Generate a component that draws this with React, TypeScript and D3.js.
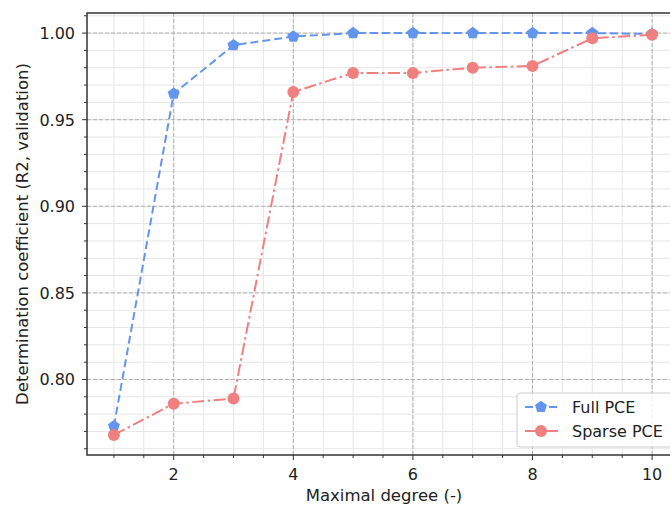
import React from "react";
import * as d3 from "d3";

const degrees = [1, 2, 3, 4, 5, 6, 7, 8, 9, 10];
const fullPCE = [0.773, 0.965, 0.993, 0.998, 1.0, 1.0, 1.0, 1.0, 1.0, 0.9995];
const sparsePCE = [0.768, 0.786, 0.789, 0.966, 0.977, 0.977, 0.98, 0.981, 0.997, 0.999];
const xTicks = [2, 4, 6, 8, 10];
const yTicks = [0.8, 0.85, 0.9, 0.95, 1.0];
const seriesNames = ["Full PCE", "Sparse PCE"];

const W = 670, H = 506;
const left = 87, top = 13, right = 679, bottom = 455;
const BLUE = "#6495ED", RED = "#F08080";
const FONT = "DejaVu Sans, sans-serif";

function pentagon(cx: number, cy: number, r: number) {
  const pts = d3.range(5).map((i) => {
    const a = -Math.PI / 2 + (i * 2 * Math.PI) / 5;
    return [cx + r * Math.cos(a), cy + r * Math.sin(a)].join(",");
  });
  return pts.join(" ");
}

export default function App() {
  const x = d3.scaleLinear().domain([0.55, 10.45]).range([left, right]);
  const y = d3.scaleLinear().domain([0.7564, 1.0116]).range([bottom, top]);
  const xMinor = d3.range(1, 10.01, 0.5);
  const yMinor = d3.range(76, 102).map((v) => v / 100);
  const line = d3
    .line<number>()
    .x((_, i) => x(degrees[i]))
    .y((d) => y(d));

  return (
    <svg width={W} height={H} style={{ position: "absolute", left: 0, top: 0 }} fontFamily={FONT}>
      <rect width={W} height={H} fill="white" />
      <defs>
        <clipPath id="plot">
          <rect x={left} y={top} width={right - left} height={bottom - top} />
        </clipPath>
      </defs>
      <g clipPath="url(#plot)">
        {xMinor.map((v) => (
          <line key={"xm" + v} x1={x(v)} x2={x(v)} y1={top} y2={bottom} stroke="#e6e6e6" strokeWidth={1} />
        ))}
        {yMinor.map((v) => (
          <line key={"ym" + v} x1={left} x2={right} y1={y(v)} y2={y(v)} stroke="#e6e6e6" strokeWidth={1} />
        ))}
        {xTicks.map((v) => (
          <line key={"xg" + v} x1={x(v)} x2={x(v)} y1={top} y2={bottom} stroke="#b0b0b0" strokeWidth={1} strokeDasharray="4,2" />
        ))}
        {yTicks.map((v) => (
          <line key={"yg" + v} x1={left} x2={right} y1={y(v)} y2={y(v)} stroke="#b0b0b0" strokeWidth={1} strokeDasharray="4,2" />
        ))}
        <path d={line(fullPCE) || ""} fill="none" stroke={BLUE} strokeWidth={2} strokeDasharray="8,4" />
        <path d={line(sparsePCE) || ""} fill="none" stroke={RED} strokeWidth={2} strokeDasharray="12,3.5,2.5,3.5" />
        {fullPCE.map((v, i) => (
          <polygon key={"fp" + i} points={pentagon(x(degrees[i]), y(v), 6.3)} fill={BLUE} />
        ))}
        {sparsePCE.map((v, i) => (
          <circle key={"sp" + i} cx={x(degrees[i])} cy={y(v)} r={6} fill={RED} />
        ))}
      </g>
      <rect x={left} y={top} width={right - left} height={bottom - top} fill="none" stroke="#333" strokeWidth={1.5} />
      {xMinor.filter((v) => !xTicks.includes(v)).map((v) => (
        <line key={"xt" + v} x1={x(v)} x2={x(v)} y1={bottom} y2={bottom + 3} stroke="#333" />
      ))}
      {yMinor.filter((v) => !yTicks.some((t) => Math.abs(t - v) < 1e-9)).map((v) => (
        <line key={"yt" + v} x1={left - 3} x2={left} y1={y(v)} y2={y(v)} stroke="#333" />
      ))}
      {xTicks.map((v) => (
        <g key={"xl" + v}>
          <line x1={x(v)} x2={x(v)} y1={bottom} y2={bottom + 5} stroke="#333" />
          <text x={x(v)} y={bottom + 25} textAnchor="middle" fontSize={16} fill="#222">
            {v}
          </text>
        </g>
      ))}
      {yTicks.map((v) => (
        <g key={"yl" + v}>
          <line x1={left - 5} x2={left} y1={y(v)} y2={y(v)} stroke="#333" />
          <text x={left - 12} y={y(v) + 6} textAnchor="end" fontSize={16} fill="#222">
            {d3.format(".2f")(v)}
          </text>
        </g>
      ))}
      <text x={384} y={501} textAnchor="middle" fontSize={16.5} fill="#222">
        Maximal degree (-)
      </text>
      <text transform={`translate(28,${(top + bottom) / 2}) rotate(-90)`} textAnchor="middle" fontSize={16.5} fill="#222">
        Determination coefficient (R2, validation)
      </text>
      <g>
        <rect x={517} y={393} width={160} height={54} rx={3} fill="white" fillOpacity={0.85} stroke="#cccccc" />
        {seriesNames.map((name, i) => {
          const cy = 407 + i * 24;
          const c = i === 0 ? BLUE : RED;
          return (
            <g key={name}>
              <line x1={525} x2={558} y1={cy} y2={cy} stroke={c} strokeWidth={2} strokeDasharray={i === 0 ? "8,4" : "12,3.5,2.5,3.5"} />
              {i === 0 ? <polygon points={pentagon(541, cy, 6.3)} fill={c} /> : <circle cx={541} cy={cy} r={6} fill={c} />}
              <text x={572} y={cy + 6} fontSize={16} fill="#222">
                {name}
              </text>
            </g>
          );
        })}
      </g>
    </svg>
  );
}
